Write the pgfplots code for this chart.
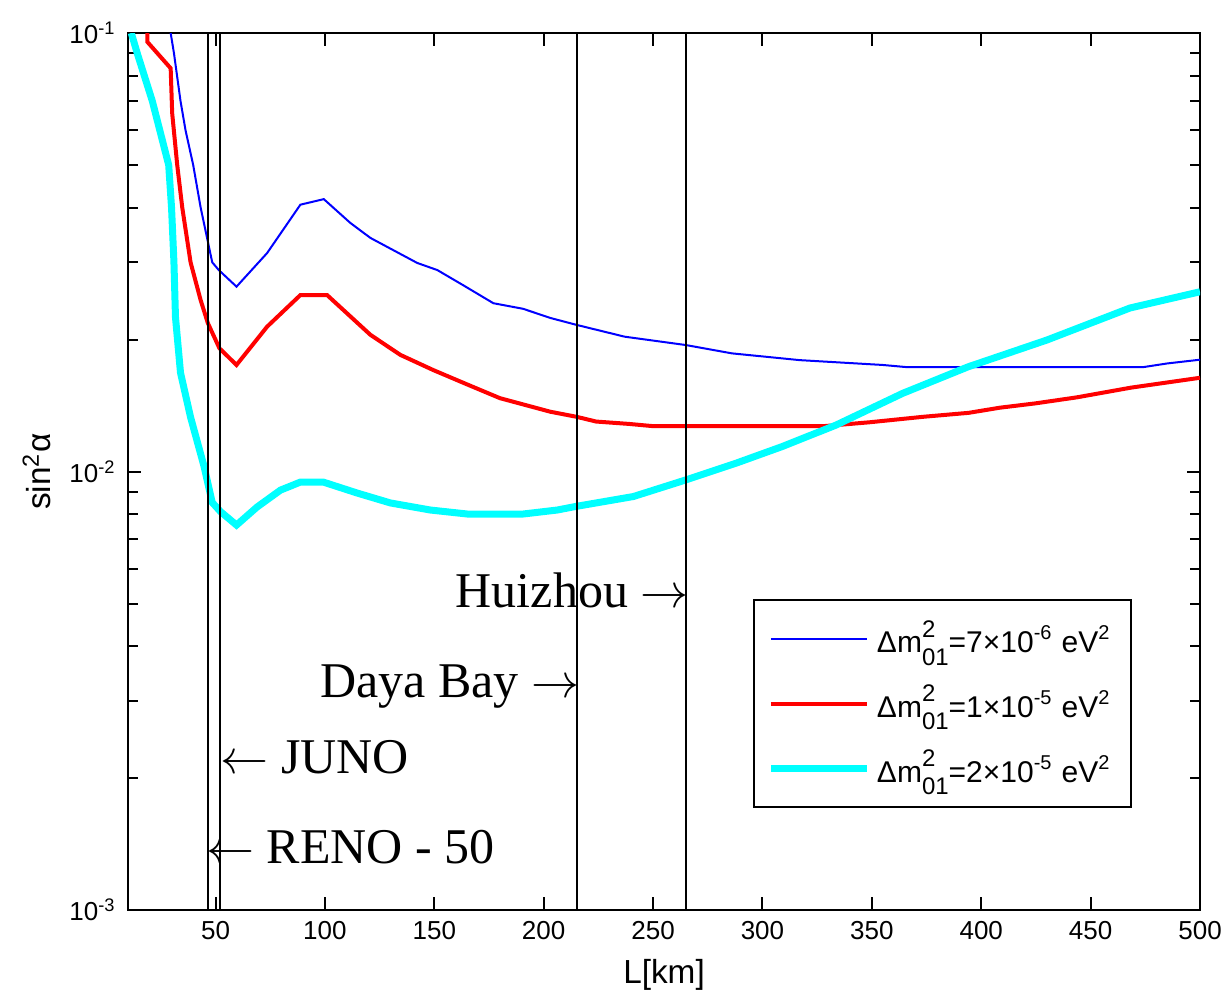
\documentclass[border=0pt]{standalone}
\usepackage{fontspec}
\setmainfont{Liberation Sans}
\newfontfamily\timesf{Liberation Serif}
\usepackage{pgfplots}
\pgfplotsset{compat=1.18}
\definecolor{mcyan}{RGB}{0,255,255}

\newcommand{\smallsc}[1]{{\fontsize{7.2}{8}\selectfont #1}}
\newcommand{\dm}{Δm\rlap{\raisebox{0.52em}{\smallsc{2}}}\raisebox{-0.42em}{\smallsc{01}}}

\begin{document}
\begin{tikzpicture}
\begin{semilogyaxis}[
    scale only axis,
    width=321.6pt, height=263.1pt,
    xmin=10, xmax=500, ymin=1e-3, ymax=1e-1,
    xtick={50,100,...,500},
    ytick={0.001,0.01,0.1},
    yticklabels={10\textsuperscript{-3},10\textsuperscript{-2},10\textsuperscript{-1}},
    minor ytick={0.002,0.003,0.004,0.005,0.006,0.007,0.008,0.009,0.02,0.03,0.04,0.05,0.06,0.07,0.08,0.09},
    tick align=inside,
    major tick length=4pt, minor tick length=3pt,
    axis line style={line width=0.6pt},
    every tick/.style={black, line width=0.6pt},
    tick label style={font=\fontsize{7.8}{9}\selectfont},
    /pgf/number format/assume math mode=true,
    xlabel={L[km]}, ylabel={sin\textsuperscript{2}α},
    label style={font=\fontsize{7.8}{9}\selectfont},
    every axis x label/.style={at={(axis description cs:0.5,-0.074)}, anchor=center},
    every axis y label/.style={at={(axis description cs:-0.085,0.5)}, rotate=90, anchor=center},
    legend style={at={(axis description cs:0.583,0.1163)}, anchor=south west,
        draw=black, line width=0.6pt, inner xsep=4pt, inner ysep=4pt,
        row sep=4.2pt, font=\fontsize{9}{11}\selectfont, cells={anchor=west}},
    legend image code/.code={\draw[#1] (0pt,0pt) -- (28.8pt,0pt);},
    legend cell align=left,
]
% Delta m^2 = 7e-6
\addplot[blue, line width=0.6pt] coordinates {
(29.5,0.1) (31,0.09) (34,0.07) (36.3,0.06) (39.8,0.05) (43.2,0.04) (48.5,0.03)
(51.5,0.0288) (59.6,0.0264) (73.6,0.0315) (88.8,0.0406) (99.5,0.0418)
(111.6,0.0369) (120.8,0.0341) (142.2,0.0299) (151.4,0.0288) (163.2,0.0266)
(177,0.0242) (190.6,0.0235) (203,0.0224) (215,0.0216) (237,0.0203)
(265,0.01943) (286,0.0186) (317,0.01795) (355,0.0175) (366,0.0173)
(474,0.0173) (485,0.01764) (500,0.01799)};
\addlegendentry{\dm=7×10\textsuperscript{-6} eV\textsuperscript{2}}
% Delta m^2 = 1e-5
\addplot[red, line width=1.2pt] coordinates {
(18.8,0.1) (18.8,0.0955) (29.5,0.0831) (30.2,0.0656) (32.5,0.05) (34.8,0.04)
(38.6,0.03) (43.2,0.0246) (46.5,0.0218) (51.8,0.0191) (59.6,0.0175)
(73.6,0.0214) (88.8,0.02526) (101,0.02526) (120.8,0.0205) (134.5,0.01845)
(149.5,0.01704) (165,0.0158) (180,0.0147) (203,0.01369) (215,0.01333)
(224,0.0130) (239,0.01284) (250,0.01269) (328,0.01269) (348.9,0.01295)
(373.5,0.01333) (394.3,0.01361) (408.4,0.01398) (424.6,0.0143)
(443.6,0.01476) (468.3,0.01553) (500,0.01636)};
\addlegendentry{\dm=1×10\textsuperscript{-5} eV\textsuperscript{2}}
% Delta m^2 = 2e-5
\addplot[mcyan, line width=2.1pt] coordinates {
(11.5,0.1) (14.2,0.09) (21.1,0.07) (28.6,0.05) (29.9,0.04) (31,0.03)
(31.7,0.0225) (34,0.0168) (38.6,0.0133) (44.7,0.0103) (48.5,0.0085)
(52.3,0.0081) (59.6,0.00755) (69,0.0083) (79.7,0.00907) (88.8,0.00946)
(99.3,0.00946) (114.8,0.00893) (129.9,0.00848) (148.2,0.00817)
(165.1,0.0080) (190.6,0.0080) (206.2,0.00817) (214.4,0.00832)
(241,0.00877) (265,0.00957) (288,0.01045) (309,0.0114) (333.6,0.01276)
(364,0.01507) (394,0.01733) (430,0.01995) (468,0.0236) (500,0.0257)};
\addlegendentry{\dm=2×10\textsuperscript{-5} eV\textsuperscript{2}}
% site distances
\addplot[black, line width=0.6pt, forget plot] coordinates {(46.5,1e-3) (46.5,1e-1)};
\addplot[black, line width=0.6pt, forget plot] coordinates {(52,1e-3) (52,1e-1)};
\addplot[black, line width=0.6pt, forget plot] coordinates {(215,1e-3) (215,1e-1)};
\addplot[black, line width=0.6pt, forget plot] coordinates {(265,1e-3) (265,1e-1)};

\node[anchor=base east, inner sep=0pt, font=\timesf\fontsize{15}{18}\selectfont]
    at (axis cs:266.5,0.00489) {Huizhou $\rightarrow$};
\node[anchor=base east, inner sep=0pt, font=\timesf\fontsize{15}{18}\selectfont]
    at (axis cs:216.5,0.003045) {Daya Bay $\rightarrow$};
\node[anchor=base west, inner sep=0pt, font=\timesf\fontsize{15}{18}\selectfont]
    at (axis cs:52,0.002053) {$\leftarrow$ JUNO};
\node[anchor=base west, inner sep=0pt, font=\timesf\fontsize{15}{18}\selectfont]
    at (axis cs:45.5,0.00128) {$\leftarrow$ RENO - 50};

\coordinate (bbsw) at (rel axis cs:0,0);
\coordinate (bbne) at (rel axis cs:1,1);
\end{semilogyaxis}
\pgfresetboundingbox
\path ([shift={(-38.4pt,-24.9pt)}]bbsw) rectangle ([shift={(8.1pt,9.9pt)}]bbne);
\end{tikzpicture}
\end{document}
